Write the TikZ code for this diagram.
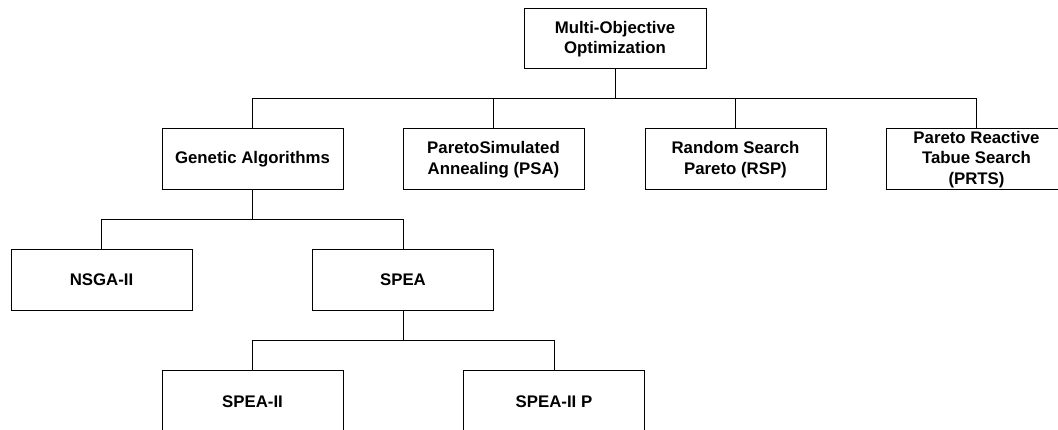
\documentclass[tikz,border=0pt]{standalone}
\usepackage{fontspec}
\setmainfont{Liberation Sans}
\begin{document}
\begin{tikzpicture}[x=1pt,y=-1pt,
  box/.style={draw=black,line width=1pt,minimum width=181pt,minimum height=61pt,
    inner sep=0pt,align=center,font=\fontsize{16.8}{20.5}\selectfont\bfseries},
  link/.style={draw=black,line width=1pt}]
\useasboundingbox (0,0) rectangle (1058,430);
\clip (0,0) rectangle (1058,430);
% root
\node[box,minimum width=182pt,minimum height=60pt] (moo) at (615,39) {Multi-Objective\\Optimization};
% second level
\node[box] (ga)   at (252.5,159.5) {Genetic Algorithms};
\node[box] (psa)  at (493.5,159.5) {ParetoSimulated\\Annealing (PSA)};
\node[box] (rsp)  at (735.5,159.5) {Random Search\\Pareto (RSP)};
\node[box] (prts) at (976.5,159.5) {Pareto Reactive\\Tabue Search\\(PRTS)};
% third level
\node[box] (nsga) at (101.5,280) {NSGA-II};
\node[box] (spea) at (403,280) {SPEA};
% fourth level
\node[box] (spea2)  at (252.5,401.5) {SPEA-II};
\node[box] (spea2p) at (554,401.5) {SPEA-II P};
% bus heights
\coordinate (busA) at (0,99);
\coordinate (busB) at (0,220);
\coordinate (busC) at (0,340.7);
% connectors
\foreach \c in {ga,psa,rsp,prts}
  \draw[link] (moo.south) -- (moo.south |- busA) -| (\c.north);
\foreach \c in {nsga,spea}
  \draw[link] (ga.south) -- (ga.south |- busB) -| (\c.north);
\foreach \c in {spea2,spea2p}
  \draw[link] (spea.south) -- (spea.south |- busC) -| (\c.north);
\end{tikzpicture}
\end{document}
